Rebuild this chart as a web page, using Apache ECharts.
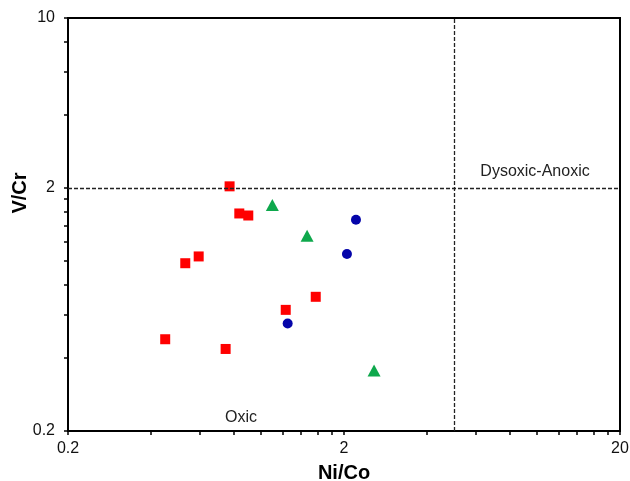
<!DOCTYPE html>
<html>
<head>
<meta charset="utf-8">
<script src="https://cdn.jsdelivr.net/npm/echarts@6/dist/echarts.min.js"></script>
<style>
  html, body { margin: 0; padding: 0; background: #fff; }
  #chart { width: 630px; height: 481px; }
</style>
</head>
<body>
<div id="chart"></div>
<script>
// Ni/Co vs V/Cr, both axes log scale
const redSquares = [
  [0.77, 2.03], [0.835, 1.57], [0.90, 1.54], [0.532, 0.98], [0.595, 1.045],
  [0.45, 0.477], [0.745, 0.435], [1.23, 0.63], [1.58, 0.713],
];
const blueCircles = [[2.21, 1.48], [2.05, 1.07], [1.25, 0.554]];
const greenTriangles = [[1.10, 1.70], [1.47, 1.27], [2.57, 0.355]];

const xTicks = [0.2, 0.4, 0.6, 0.8, 1, 1.2, 1.4, 1.6, 1.8, 2, 4, 6, 8, 10, 12, 14, 16, 18, 20];
const xLabels = [0.2, 2, 20];
const yTicks = [0.2, 0.4, 0.6, 0.8, 1, 1.2, 1.4, 1.6, 1.8, 2, 4, 6, 8, 10];
const yLabels = [0.2, 2, 10];

const niCoLimit = 5;
const vCrLimit = 2;

const font = '"Liberation Sans", Arial, sans-serif';
const fmt = (v) => String(Math.round(v * 100) / 100);

const chart = echarts.init(document.getElementById('chart'), null, { renderer: 'canvas' });

const axisCommon = {
  type: 'log',
  logBase: 10,
  splitLine: { show: false },
  minorTick: { show: false },
  nameMoveOverlap: false,
  axisLine: { show: true, lineStyle: { color: '#000', width: 2 } },
  nameTextStyle: { fontFamily: font, fontSize: 20, fontWeight: 'bold', color: '#000' },
};

const opts = {
  animation: false,
  grid: {
    left: 68, right: 10, top: 18, bottom: 50,
    outerBoundsMode: 'none',
    containLabel: false,
    show: true, borderColor: '#000', borderWidth: 2, backgroundColor: 'transparent',
  },
  xAxis: {
    ...axisCommon,
    min: 0.2,
    max: 20,
    name: 'Ni/Co',
    nameLocation: 'middle',
    nameGap: 32,
    axisTick: { show: true, inside: false, length: 4, customValues: xTicks, lineStyle: { color: '#000', width: 1.5 } },
    axisLabel: {
      customValues: xLabels, formatter: fmt, margin: 10,
      fontFamily: font, fontSize: 16, color: '#111',
    },
  },
  yAxis: {
    ...axisCommon,
    min: 0.2,
    max: 10,
    name: 'V/Cr',
    nameLocation: 'middle',
    nameRotate: 90,
    nameGap: 38,
    nameTextStyle: { ...axisCommon.nameTextStyle, padding: [0, 0, 0, 63] },
    axisTick: { show: true, inside: false, length: 4, customValues: yTicks, lineStyle: { color: '#000', width: 1.5 } },
    axisLabel: {
      customValues: yLabels, formatter: fmt, margin: 13,
      fontFamily: font, fontSize: 16, color: '#111',
    },
  },
  series: [
    {
      type: 'scatter',
      data: redSquares,
      symbol: 'rect',
      symbolSize: 10,
      itemStyle: { color: '#ff0000', opacity: 1 },
      markLine: {
        silent: true,
        symbol: 'none',
        label: { show: false },
        lineStyle: { color: '#222', width: 1.3, type: [4, 2] },
        data: [{ xAxis: niCoLimit }, { yAxis: vCrLimit }],
      },
      z: 3,
    },
    {
      type: 'scatter',
      data: blueCircles,
      symbol: 'circle',
      symbolSize: 10,
      itemStyle: { color: '#0505aa', opacity: 1 },
      z: 3,
    },
    {
      type: 'scatter',
      data: greenTriangles,
      symbol: 'triangle',
      symbolSize: [13, 12],
      itemStyle: { color: '#0ea84c', opacity: 1 },
      z: 3,
    },
  ],
  graphic: [
    {
      type: 'text', x: 241, y: 418,
      style: { text: 'Oxic', fontFamily: font, fontSize: 16, fill: '#222', align: 'center', verticalAlign: 'middle' },
    },
    {
      type: 'text', x: 535, y: 172,
      style: { text: 'Dysoxic-Anoxic', fontFamily: font, fontSize: 16, fill: '#222', align: 'center', verticalAlign: 'middle' },
    },
  ],
};

chart.setOption(opts);
</script>
</body>
</html>
